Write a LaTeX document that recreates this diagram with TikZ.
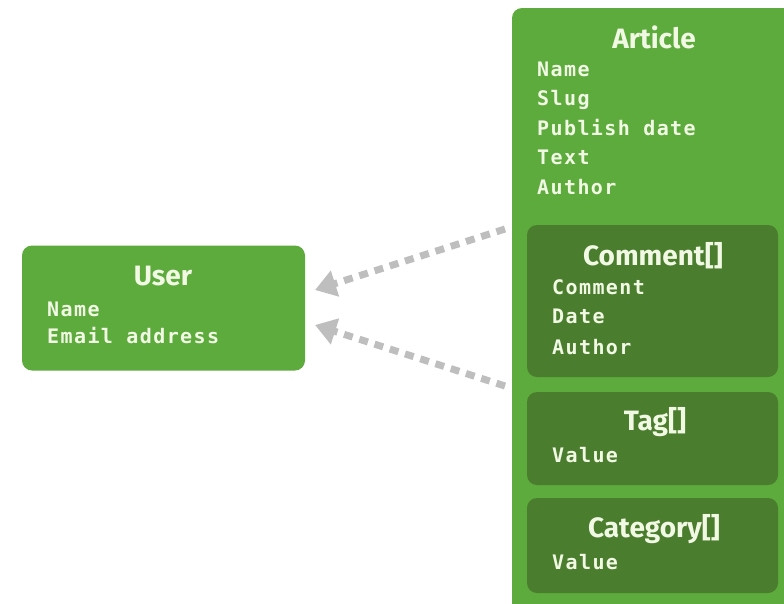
\documentclass[tikz,border=0pt]{standalone}
\usepackage{fontspec}
\usetikzlibrary{arrows.meta}
\newfontfamily\titlefont{Fira Sans}[UprightFont=* Bold]
\newfontfamily\fieldfont{DejaVu Sans Mono}[UprightFont=* Bold, LetterSpace=7]
\definecolor{outergreen}{HTML}{5DAB3C}
\definecolor{innergreen}{HTML}{4A7D2D}
\definecolor{labelwhite}{HTML}{F1F8E4}
\definecolor{linkgrey}{HTML}{BEBEBE}
\tikzset{
  entity/.style={rectangle, rounded corners=10pt, fill=outergreen, draw=none, inner sep=0pt},
  member/.style={rectangle, rounded corners=10pt, fill=innergreen, draw=none, inner sep=0pt},
  title/.style={text=labelwhite, font=\titlefont\fontsize{28}{30}\selectfont, inner sep=0pt, anchor=center},
  field/.style={text=labelwhite, font=\fieldfont\fontsize{20}{24}\selectfont, inner sep=0pt, anchor=mid west},
  dep/.style={draw=linkgrey, line width=7pt, dash pattern=on 9pt off 7pt,
    -{Triangle[length=21pt,width=26pt]}, shorten >=0pt},
}
\begin{document}
\begin{tikzpicture}[x=1pt,y=-1pt]
\useasboundingbox (0,0) rectangle (784,603);
\clip (0,0) rectangle (784,603);
\fill[white] (0,0) rectangle (784,603);

% User entity
\node[entity, minimum width=283pt, minimum height=125pt] (user) at (163.5,308) {};
\node[title] (usert) at (163,276) {User};
\node[field] (un) at (47,314) {Name};
\node[field] (ue) at (47,341) {Email address};

% Article entity (runs off the right and bottom edges)
\node[entity, minimum width=300pt, minimum height=620pt] (art) at (662,318) {};
\node[title] (artt) at (654,37) {Article};
\node[field] (an) at (537,74) {Name};
\node[field] (as) at (537,103) {Slug};
\node[field] (ap) at (537,133) {Publish date};
\node[field] (ax) at (537,162) {Text};
\node[field] (aa) at (537,192) {Author};

% Comment[] member
\node[member, minimum width=251pt, minimum height=152pt] (cmt) at (652.5,301) {};
\node[title] (cmtt) at (653,256) {Comment[]};
\node[field] (cc) at (552,292) {Comment};
\node[field] (cd) at (552,321) {Date};
\node[field] (ca) at (552,352) {Author};

% Tag[] member
\node[member, minimum width=251pt, minimum height=93pt] (tag) at (652.5,438.5) {};
\node[title] (tagt) at (655,422) {Tag[]};
\node[field] (tv) at (552,460) {Value};

% Category[] member
\node[member, minimum width=251pt, minimum height=95pt] (cat) at (652.5,545.5) {};
\node[title] (catt) at (654,529) {Category[]};
\node[field] (kv) at (552,567) {Value};

% references from Article to User
\coordinate (s1) at (505,229);
\coordinate (s2) at (505,386);
\coordinate (e1) at (315,290);
\coordinate (e2) at (315,325);
\draw[dep] (s1) -- (e1);
\draw[dep] (s2) -- (e2);
\end{tikzpicture}
\end{document}
